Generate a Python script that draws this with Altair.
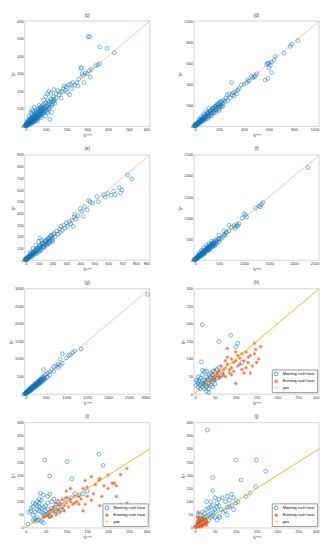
import altair as alt
import pandas as pd

BLUE = "#0072BD"
ORANGE = "#D95319"
YELLOW = "#EDB120"
FONT = "Liberation Sans"
W, H = 127, 107

# ---------------- data ----------------
c_pts = [(2,3),(4,6),(5,2),(6,9),(8,5),(9,12),(10,7),(12,15),(13,9),(15,18),(16,12),(18,22),(19,14),(20,26),(22,17),(24,30),(25,20),(27,34),(28,23),(30,38),(31,26),(33,42),(34,29),(36,47),(37,31),(39,52),(40,34),(42,57),(44,38),(45,62),(47,41),(48,68),(50,44),(52,75),(54,48),(55,80),(57,52),(58,88),(60,55),(62,95),(64,60),(65,100),(67,64),(70,70),(72,105),(74,68),(76,80),(78,112),(80,75),(82,88),(85,118),(88,82),(90,95),(92,126),(95,88),(98,105),(100,135),(104,96),(108,112),(112,145),(116,104),(120,125),(125,158),(130,118),(135,140),(140,170),(145,132),(150,160),
         (3,8),(7,4),(11,20),(14,6),(17,28),(21,10),(23,40),(26,14),(29,50),(32,18),(35,70),(38,24),(41,85),(43,28),(46,50),(49,30),(51,58),(53,36),(56,66),(59,40),(61,72),(63,46),(66,82),(69,52),(71,90),(73,58),(75,95),(77,62),(79,100),(83,70),(86,104),(89,74),(93,110),(96,80),(102,118),(106,86),(110,130),(114,98),(118,138),(122,110),(128,150),(132,128),(138,155),(142,145),
         (20,60),(30,80),(35,95),(45,110),(25,45),(15,35),(10,25),(40,20),(60,30),(80,50),(100,60),(110,75),(120,40),(130,80),(70,120),(90,150),(100,170),(110,185),(115,200),(125,190),(140,210),(150,185),(160,205),(165,180),(170,195),(175,160),(180,200),(185,215),(190,230),(195,205),(200,225),(205,195),(210,235),(215,180),(220,240),(225,215),(230,250),(240,235),(250,250),(255,230),(260,270),(270,335),(272,330),(275,300),(280,290),(285,250),(290,305),(300,300),(310,318),(315,280),(320,325),(340,345),(350,350),(360,357),(360,453),(395,445),(305,512),(312,510),(430,420)]

d_pts = [(3,4),(6,5),(8,10),(10,8),(12,15),(15,12),(18,20),(20,17),(24,26),(27,22),(30,34),(34,28),(37,40),(40,35),(44,48),(48,42),(52,58),(55,50),(60,66),(64,57),(68,75),(72,64),(76,84),(80,72),(85,95),(90,80),(95,105),(100,90),(105,118),(110,100),(115,128),(120,108),(125,140),(130,118),(135,150),(140,128),(145,160),(150,138),(155,172),(160,150),(165,182),(170,158),(175,195),(180,168),(185,200),(190,178),(195,210),(200,188),(205,220),(210,200),(215,230),(220,205),
         (5,12),(14,5),(22,32),(32,20),(42,55),(50,38),(58,72),(66,50),(74,90),(82,62),(92,110),(98,75),(108,128),(118,90),(128,150),(138,112),(148,172),(158,130),(168,190),(178,150),(188,215),(198,165),(208,235),(218,185),(225,240),(235,215),
         (40,70),(60,95),(80,120),(100,140),(120,170),(50,30),(80,55),(110,75),(140,100),(170,130),(200,150),(230,190),(240,250),(250,235),(255,270),(265,300),(270,245),(280,310),(290,270),(300,415),(305,300),(315,320),(320,290),(330,330),(340,310),(350,345),(360,360),(380,395),(400,400),(420,415),(430,440),(440,430),(460,475),(470,460),(480,470),(490,480),(500,500),(570,440),(590,455),(580,590),(590,600),(600,555),(600,600),(610,580),(620,510),(620,610),(640,630),(650,665),(720,695),(770,760),(780,780),(830,815)]

e_pts = [(3,4),(5,3),(8,9),(10,7),(12,14),(15,12),(18,19),(20,16),(24,25),(27,22),(30,32),(34,28),(37,39),(40,35),(44,47),(48,42),(52,56),(55,50),(60,64),(64,57),(68,73),(72,65),(76,82),(80,72),(85,92),(90,80),(95,102),(100,90),(105,113),(110,100),(115,124),(120,108),(125,135),(130,118),(135,146),(140,126),(145,157),(150,136),(155,168),(160,145),(165,178),(170,155),(175,190),(180,165),(185,200),(190,175),(195,210),(200,185),
         (6,12),(14,4),(22,30),(32,20),(42,54),(50,36),(58,70),(66,48),(74,88),(84,60),(92,108),(100,74),(108,125),(118,88),(128,148),(138,110),(148,170),(158,128),(168,188),(178,150),(188,212),(198,168),(208,220),
         (40,70),(60,100),(80,130),(100,160),(110,190),(120,170),(50,30),(80,55),(110,80),(140,110),(170,140),(200,160),(210,230),(220,200),(230,250),(240,225),(250,270),(255,240),(260,290),(270,255),(280,300),(290,275),(300,320),(310,290),(320,330),(330,310),(340,340),(350,290),(355,370),(360,390),(370,350),(380,380),(400,440),(410,420),(420,375),(430,460),(450,430),(460,510),(470,500),(490,490),(520,545),(530,500),(570,560),(580,540),(600,570),(620,555),(640,590),(650,560),(680,620),(690,575),(700,600),(740,730),(770,695)]

f_pts = [(5,6),(10,8),(15,18),(20,16),(30,32),(35,28),(45,48),(50,44),(60,64),(65,58),(75,80),(80,72),(90,96),(95,88),(105,112),(110,100),(120,128),(130,118),(140,150),(150,138),(160,170),(170,158),(180,192),(190,175),(200,212),(210,195),(220,234),(230,215),(240,255),(250,232),(260,275),(270,252),(280,296),(290,270),(300,316),(310,290),(320,338),(330,310),(340,358),(350,330),(360,380),(370,350),(380,400),(390,370),(400,420),(420,395),(440,460),(460,440),
         (25,40),(40,25),(55,80),(70,50),(85,120),(100,75),(115,150),(135,105),(155,200),(175,140),(195,240),(215,170),(235,285),(255,210),(275,320),(295,245),(315,360),(335,280),(355,400),(375,320),(395,440),(415,350),(435,480),(455,400),
         (100,170),(150,240),(200,300),(250,350),(300,400),(350,450),(150,100),(200,150),(300,250),(400,350),(500,430),(480,500),(500,520),(520,500),(550,520),(580,560),(600,610),(620,600),(640,650),(650,670),(500,600),(600,700),(700,700),(700,830),(750,780),(800,820),(820,760),(850,800),(850,850),(880,820),(900,870),(960,1000),(990,1100),(1030,1080),(1050,1030),(1230,1240),(1300,1290),(1320,1270),(1350,1330),(1380,1370),(2280,2200)]

g_pts = [(5,6),(10,8),(15,18),(20,16),(30,32),(35,28),(45,48),(50,44),(60,64),(65,58),(75,80),(80,72),(90,96),(95,88),(105,112),(110,100),(120,128),(130,118),(140,150),(150,138),(160,170),(170,158),(180,192),(190,175),(200,212),(210,195),(220,234),(230,215),(240,255),(250,232),(260,275),(270,252),(280,296),(290,270),(300,316),(310,290),(320,338),(330,310),(340,358),(350,330),(360,380),(370,350),(380,400),(390,370),(400,425),(420,400),(440,460),(460,445),
         (25,40),(40,25),(55,80),(70,50),(85,120),(100,75),(115,150),(135,105),(155,200),(175,140),(195,240),(215,170),(235,285),(255,210),(275,320),(295,245),(315,360),(335,280),(355,400),(375,320),(395,440),(415,350),(435,480),(455,400),
         (150,100),(250,200),(350,300),(450,400),(450,520),(450,700),(480,430),(500,560),(520,480),(550,600),(550,480),(600,550),(600,640),(650,700),(700,650),(700,780),(750,800),(800,760),(800,850),(850,820),(850,1000),(900,880),(900,1150),(1000,1030),(1050,1100),(1100,1120),(1150,1180),(1200,1230),(1350,1290),(2950,2840)]

h_morning = [(20,198),(88,167),(60,150),(105,145),(100,135),(115,90),(18,92),(20,68),(25,65),(30,65),(40,60),(45,55),(50,50),(10,50),(15,45),(20,40),(25,40),(30,35),(35,30),(40,25),(45,20),(15,25),(20,20),(10,30),(5,25),(30,20),(25,15),(35,15),(40,40),(45,35),(50,30),(55,45),(60,60),(55,70),(35,55),(30,50),(20,55),(12,38),(18,30),(8,35),(22,28),(28,25),(33,42),(38,48),(42,46),(48,42),(15,15),(30,8),(35,5),(25,30),(10,20),(45,65),(60,75),(5,40)]
h_evening = [(198,67),(145,145),(160,135),(148,127),(135,110),(115,115),(110,102),(120,95),(130,105),(140,80),(150,90),(135,60),(125,75),(100,30),(105,80),(95,90),(90,100),(85,70),(80,130),(80,105),(75,75),(70,60),(65,80),(60,65),(55,55),(50,50),(45,45),(75,95),(70,70),(65,50),(60,45),(55,60),(50,40),(45,60),(85,60),(90,75),(95,65),(100,95),(110,85),(115,70),(120,60),(125,120),(130,90),(105,110),(60,50),(70,55),(80,85),(90,55),(40,35),(35,25),(30,40),(25,30),(50,70),(75,50),(100,120),(145,115),(155,100)]

i_morning = [(48,258),(102,252),(178,280),(188,238),(60,198),(113,187),(38,132),(60,128),(55,120),(70,110),(40,105),(30,100),(35,95),(25,90),(20,80),(15,75),(10,60),(8,15),(20,50),(25,60),(30,70),(35,65),(40,60),(45,55),(50,50),(55,50),(60,45),(30,40),(35,30),(40,25),(45,20),(25,35),(20,30),(50,85),(55,95),(65,100),(75,90),(80,80),(85,90),(90,100),(100,110),(45,80),(40,75),(35,80),(30,85),(20,95),(50,65),(45,45),(55,70),(60,60),(65,75),(70,70),(75,65),(25,25),(30,30),(120,130),(110,115),(130,125),(140,130),(150,140),(80,60),(90,70),(35,110),(45,125),(15,65)]
i_evening = [(245,225),(230,203),(200,201),(180,188),(178,180),(160,195),(145,180),(140,150),(150,155),(170,165),(190,160),(200,150),(210,170),(215,170),(220,120),(230,90),(245,95),(220,160),(185,120),(180,85),(160,105),(165,130),(140,65),(145,90),(130,90),(120,95),(110,100),(100,115),(90,110),(80,105),(75,95),(70,80),(65,70),(60,60),(55,50),(50,45),(45,40),(85,90),(95,85),(105,80),(115,90),(125,100),(135,110),(100,140),(110,150),(90,75),(80,70),(70,60),(60,40),(85,60),(95,65),(100,95),(110,110),(120,120),(75,50),(65,45),(130,120),(150,120)]

j_morning = [(32,372),(100,258),(150,258),(172,215),(113,182),(45,192),(148,157),(45,142),(135,133),(125,120),(105,100),(100,95),(90,85),(85,80),(80,80),(75,100),(80,120),(90,128),(95,115),(85,105),(60,110),(50,115),(55,95),(60,85),(55,80),(50,70),(45,85),(40,80),(35,75),(30,70),(25,55),(20,60),(15,50),(10,50),(30,100),(40,100),(45,60),(40,55),(35,50),(30,45),(25,40),(20,35),(15,30),(10,25),(50,40),(55,30),(60,45),(65,70),(70,60),(80,50),(35,30),(40,40),(45,45),(52,62),(62,40),(75,65),(95,70),(68,115)]
j_evening = [(10,60),(8,40),(12,38),(15,30),(20,40),(22,30),(25,25),(28,20),(30,25),(20,20),(18,15),(15,12),(12,10),(10,8),(8,5),(5,3),(3,2),(6,10),(10,15),(14,18),(16,22),(18,26),(24,35),(26,15),(30,10),(22,8),(18,5),(12,3),(4,6),(2,4),(7,18),(9,22),(11,28),(13,16),(17,12),(21,14),(23,18),(27,28),(29,32),(32,20)]

series_names = ["Morning rush hour", "Evening rush hour", "y=x"]
x_title = "Sʳᵉᵃˡ"
y_title = "Sᵖ"

ASTERISK = "M-1,0L1,0M0,-1L0,1M-0.7,-0.7L0.7,0.7M-0.7,0.7L0.7,-0.7"


def axis(lim, step, title):
    return alt.Axis(values=list(range(0, lim + 1, step)), format="d", grid=False, ticks=False,
                    domain=False, labelFontSize=4, labelPadding=1.5, labelFont=FONT,
                    labelColor="#333", title=title, titleFontSize=4.5, titlePadding=1,
                    titleFont="DejaVu Sans", titleFontWeight="normal", titleColor="#333")


def single_panel(letter, pts, xlim, ylim, step):
    df = pd.DataFrame(pts, columns=["x", "y"])
    ldf = pd.DataFrame({"x": [0, xlim], "y": [0, xlim]})
    xs = alt.X("x:Q", scale=alt.Scale(domain=[0, xlim], nice=False), axis=axis(xlim, step, x_title))
    ys = alt.Y("y:Q", scale=alt.Scale(domain=[0, ylim], nice=False), axis=axis(ylim, step, y_title))
    pts_layer = alt.Chart(df).mark_point(shape="circle", filled=False, size=15, strokeWidth=0.55,
                                         color=BLUE, opacity=0.9).encode(x=xs, y=ys)
    line_layer = alt.Chart(ldf).mark_line(color=ORANGE, strokeWidth=0.6, opacity=0.55).encode(x=xs, y=ys)
    return alt.layer(pts_layer, line_layer).properties(
        width=W, height=H, title=alt.TitleParams(f"({letter})"))


def rush_panel(letter, morning, evening, xlim, ylim, step):
    rows = [(x, y, series_names[0]) for x, y in morning] + [(x, y, series_names[1]) for x, y in evening]
    df = pd.DataFrame(rows, columns=["x", "y", "series"])
    ldf = pd.DataFrame({"x": [0, 300], "y": [0, 300], "series": [series_names[2]] * 2})
    xs = alt.X("x:Q", scale=alt.Scale(domain=[0, xlim], nice=False), axis=axis(xlim, step, x_title))
    ys = alt.Y("y:Q", scale=alt.Scale(domain=[0, ylim], nice=False), axis=axis(ylim, step, y_title))
    legend = alt.Legend(orient="bottom-right", title=None, labelFontSize=4, labelFont=FONT,
                        symbolSize=14, symbolStrokeWidth=0.7, fillColor="white", strokeColor="#999",
                        padding=2, rowPadding=0.5, offset=2, labelLimit=80, columnPadding=2)
    color = alt.Color("series:N", scale=alt.Scale(domain=series_names, range=[BLUE, ORANGE, YELLOW]),
                      legend=legend)
    shape = alt.Shape("series:N", scale=alt.Scale(domain=series_names, range=["circle", ASTERISK, "stroke"]),
                      legend=legend)
    pts_layer = alt.Chart(df).mark_point(filled=False, size=15, strokeWidth=0.55, opacity=0.95).encode(
        x=xs, y=ys, color=color, shape=shape)
    line_layer = alt.Chart(ldf).mark_line(strokeWidth=0.9).encode(x=xs, y=ys, color=color)
    return alt.layer(pts_layer, line_layer).properties(
        width=W, height=H, title=alt.TitleParams(f"({letter})"))


panels = [
    single_panel("c", c_pts, 600, 600, 100),
    single_panel("d", d_pts, 1000, 1000, 200),
    single_panel("e", e_pts, 900, 900, 100),
    single_panel("f", f_pts, 2500, 2500, 500),
    single_panel("g", g_pts, 3000, 3000, 500),
    rush_panel("h", h_morning, h_evening, 300, 300, 50),
    rush_panel("i", i_morning, i_evening, 300, 400, 50),
    rush_panel("j", j_morning, j_evening, 300, 400, 50),
]

chart = alt.concat(*panels, columns=2, spacing={"row": 8, "column": 25}).resolve_scale(
    x="independent", y="independent", color="independent", shape="independent"
).properties(padding=0).configure_view(stroke="#aaa", strokeWidth=0.5).configure_title(
    fontSize=4.5, font=FONT, fontWeight="normal", offset=2, color="#333")

chart.save("out.html", embed_options={"renderer": "svg", "actions": False})
